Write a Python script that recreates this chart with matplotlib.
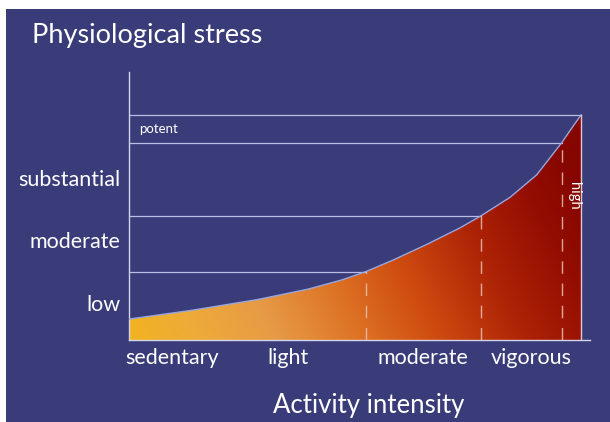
import numpy as np
import matplotlib
matplotlib.use("Agg")
import matplotlib.pyplot as plt
from matplotlib.colors import LinearSegmentedColormap
from matplotlib.patches import Rectangle

# ---- data ----
intensity = [0, 13.9, 28.5, 39.6, 47.1, 52.4, 58.5, 65.9, 73.2, 77.8, 84.3, 90.2, 95.7, 97.9, 100]
stress = [9.3, 13.2, 18.0, 22.6, 26.7, 30.4, 35.6, 42.5, 49.8, 55.1, 63.4, 73.4, 87.6, 94.0, 100]

x_bounds = [52.4, 77.8, 95.7, 100]          # activity-zone boundaries
y_bounds = [30.4, 55.1, 87.6, 100]          # stress-level boundaries

x_labels = ["sedentary", "light", "moderate", "vigorous"]
x_label_pos = [9.6, 35.2, 65.0, 88.9]
y_labels = ["low", "moderate", "substantial"]
y_label_pos = [15.6, 43.7, 71.1]

BG = "#393c79"
LINE = "#b9bde6"
AXIS = "#d4d5ea"
FONT = ["Lato", "DejaVu Sans"]

fig = plt.figure(figsize=(6.10, 4.22), dpi=100, facecolor="white")
fig.patches.append(Rectangle((6 / 610, 0), 1 - 6 / 610, 1 - 9 / 422,
                             transform=fig.transFigure, facecolor=BG,
                             edgecolor="none", zorder=-10))

ax = fig.add_axes([129 / 610, 82 / 422, 461.04 / 610, 268 / 422])
ax.set_facecolor("none")
ax.set_xlim(0, 102)
ax.set_ylim(0, 119.1)
for s in ["top", "right"]:
    ax.spines[s].set_visible(False)
for s in ["left", "bottom"]:
    ax.spines[s].set_color(AXIS)
    ax.spines[s].set_linewidth(1.0)
ax.set_xticks([])
ax.set_yticks([])

# gradient fill under the curve
cmap = LinearSegmentedColormap.from_list(
    "heat", [(0.0, "#f1b320"), (0.12, "#eeac38"), (0.28, "#e79a45"),
             (0.45, "#dc6f22"), (0.58, "#cf4c10"), (0.75, "#ad2306"),
             (0.9, "#930d02"), (1.0, "#860600")])
gx, gy = np.meshgrid(np.linspace(0, 1, 300), np.linspace(0, 1, 300))
grad = np.clip(gx * 0.85 + gy * 0.22, 0, 1)
poly = ax.fill_between(intensity, 0, stress, facecolor="none", edgecolor="none")
im = ax.imshow(grad, extent=[0, 100, 0, 100], origin="lower", cmap=cmap,
               aspect="auto", zorder=1, vmin=0, vmax=1)
im.set_clip_path(poly.get_paths()[0], transform=ax.transData)

# curve outline
ax.plot(intensity, stress, color="#97a6e0", lw=1.0, zorder=3)

# horizontal level lines and vertical zone boundaries
for xb, yb in zip(x_bounds, y_bounds):
    ax.plot([0, xb], [yb, yb], color=LINE, lw=0.9, zorder=2)
    if xb < 100:
        ax.plot([xb, xb], [0, yb], color="#e9c2b4", lw=1.0, zorder=3,
                dashes=(9, 7), alpha=0.85)
    else:
        ax.plot([xb, xb], [0, yb], color="#e0c8d0", lw=1.0, zorder=3)

# labels
for lab, yp in zip(y_labels, y_label_pos):
    ax.text(-1.8, yp, lab, ha="right", va="center", color="white",
            fontsize=15.5, family=FONT)
for lab, xp in zip(x_labels, x_label_pos):
    ax.text(xp, -7.9, lab, ha="center", va="center", color="white",
            fontsize=15.5, family=FONT)
ax.text(2.2, 93.8, "potent", ha="left", va="center", color="white",
        fontsize=9.5, family=FONT)
ax.text(98.5, 64, "high", ha="center", va="center", color="white",
        fontsize=10.5, rotation=-90, family=FONT)

fig.text(32 / 610, 1 - 35 / 422, "Physiological stress", ha="left", va="center",
         color="white", fontsize=19.5, family=FONT)
fig.text(369 / 610, 1 - 405 / 422, "Activity intensity", ha="center", va="center",
         color="white", fontsize=18.5, family=FONT)

fig.savefig("out.png", dpi=100, facecolor="white")
